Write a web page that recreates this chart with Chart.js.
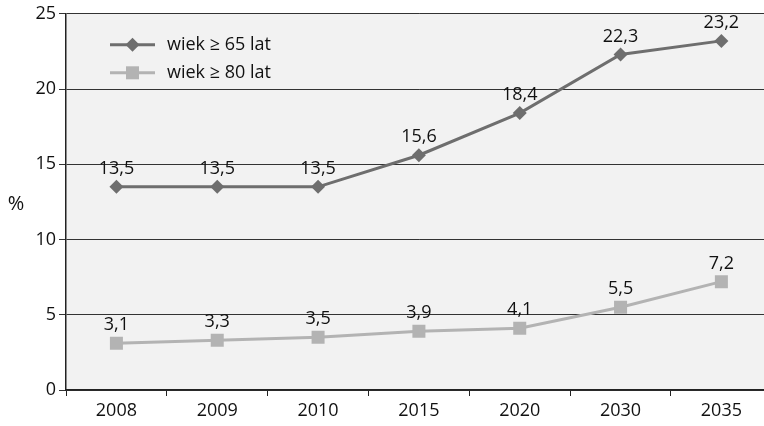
<!DOCTYPE html>
<html>
<head>
<meta charset="utf-8">
<script src="https://cdn.jsdelivr.net/npm/chart.js@4/dist/chart.umd.min.js"></script>
<style>
  html, body { margin: 0; padding: 0; background: #fff; overflow: hidden; }
</style>
</head>
<body>
<canvas id="chart" width="781" height="426"></canvas>
<script>
const years = ['2008', '2009', '2010', '2015', '2020', '2030', '2035'];
const age65 = [13.5, 13.5, 13.5, 15.6, 18.4, 22.3, 23.2];
const age80 = [3.1, 3.3, 3.5, 3.9, 4.1, 5.5, 7.2];
const seriesNames = ['wiek \u2265 65 lat', 'wiek \u2265 80 lat'];
const yTitle = '%';

const FONT = "'Open Sans', sans-serif";
const darkGray = '#6e6e6e';
const lightGray = '#b3b3b3';

// light gray plot background
const plotBackground = {
    id: 'plotBackground',
    beforeDraw(chart) {
        const a = chart.chartArea;
        const ctx = chart.ctx;
        ctx.save();
        ctx.fillStyle = '#f2f2f2';
        ctx.fillRect(a.left, a.top, a.right - a.left, a.bottom - a.top);
        ctx.restore();
    }
};

// value labels above the points, legend inside the plot, '%' title
const extras = {
    id: 'extras',
    afterDatasetsDraw(chart) {
        const ctx = chart.ctx;
        const a = chart.chartArea;
        ctx.save();
        ctx.font = '18px ' + FONT;
        ctx.fillStyle = '#111';
        ctx.textAlign = 'center';
        ctx.textBaseline = 'middle';
        chart.data.datasets.forEach((ds, i) => {
            chart.getDatasetMeta(i).data.forEach((pt, j) => {
                const txt = ds.data[j].toFixed(1).replace('.', ',');
                ctx.fillText(txt, pt.x, pt.y - 18);
            });
        });

        // legend
        const rows = [
            {name: seriesNames[0], color: darkGray, shape: 'diamond', y: a.top + 31},
            {name: seriesNames[1], color: lightGray, shape: 'square', y: a.top + 59}
        ];
        rows.forEach(r => {
            const x0 = a.left + 44, x1 = a.left + 89, cx = (x0 + x1) / 2;
            ctx.strokeStyle = r.color;
            ctx.lineWidth = 3;
            ctx.beginPath();
            ctx.moveTo(x0, r.y);
            ctx.lineTo(x1, r.y);
            ctx.stroke();
            ctx.fillStyle = r.color;
            ctx.beginPath();
            if (r.shape === 'diamond') {
                ctx.moveTo(cx, r.y - 7);
                ctx.lineTo(cx + 7, r.y);
                ctx.lineTo(cx, r.y + 7);
                ctx.lineTo(cx - 7, r.y);
                ctx.closePath();
            } else {
                ctx.rect(cx - 6.5, r.y - 6.5, 13, 13);
            }
            ctx.fill();
            ctx.fillStyle = '#111';
            ctx.textAlign = 'left';
            ctx.font = '18px ' + FONT;
            ctx.fillText(r.name, a.left + 101, r.y);
        });

        ctx.textAlign = 'center';
        ctx.font = '20px ' + FONT;
        ctx.fillText(yTitle, a.left - 50, (a.top + a.bottom) / 2 + 2);
        ctx.restore();
    }
};

const ctx = document.getElementById('chart').getContext('2d');
const chart = new Chart(ctx, {
    type: 'line',
    data: {
        labels: years,
        datasets: [
            {
                label: seriesNames[0],
                data: age65,
                borderColor: darkGray,
                backgroundColor: darkGray,
                borderWidth: 3,
                pointStyle: 'rectRot',
                pointRadius: 7,
                pointBorderWidth: 0,
                tension: 0
            },
            {
                label: seriesNames[1],
                data: age80,
                borderColor: lightGray,
                backgroundColor: lightGray,
                borderWidth: 3,
                pointStyle: 'rect',
                pointRadius: 9.2,
                pointBorderWidth: 0,
                tension: 0
            }
        ]
    },
    options: {
        responsive: false,
        animation: false,
        layout: {
            padding: {top: 13, right: 1, left: 0, bottom: 0}
        },
        plugins: {
            legend: {display: false},
            tooltip: {enabled: false}
        },
        scales: {
            x: {
                offset: true,
                grid: {
                    offset: true,
                    drawOnChartArea: false,
                    drawTicks: true,
                    tickLength: 6,
                    color: '#222'
                },
                border: {color: '#222', width: 1.5},
                ticks: {
                    color: '#111',
                    font: {family: FONT, size: 18},
                    padding: 4,
                    maxRotation: 0
                },
                afterFit(scale) { scale.height = 36; }
            },
            y: {
                min: 0,
                max: 25,
                ticks: {
                    stepSize: 5,
                    color: '#111',
                    font: {family: FONT, size: 18},
                    padding: 3
                },
                grid: {
                    color: '#333',
                    lineWidth: 1,
                    tickLength: 7,
                    drawTicks: true
                },
                border: {color: '#222', width: 1.5},
                afterFit(scale) { scale.width = 66; }
            }
        }
    },
    plugins: [plotBackground, extras]
});
</script>
</body>
</html>
